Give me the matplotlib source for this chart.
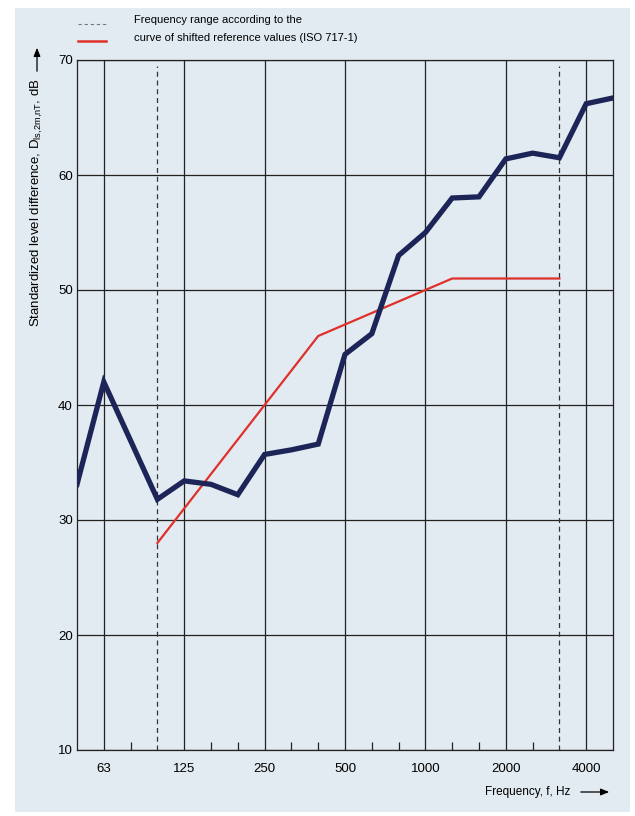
import matplotlib
matplotlib.use("Agg")
import matplotlib.pyplot as plt
from matplotlib.patches import Rectangle, FancyArrowPatch

plt.rcParams['font.family'] = ['Liberation Sans Narrow', 'Liberation Sans', 'DejaVu Sans']

bands = ["50", "63", "80", "100", "125", "160", "200", "250", "315", "400", "500",
         "630", "800", "1000", "1250", "1600", "2000", "2500", "3150", "4000", "5000"]
measured = [33.1, 42.0, 36.9, 31.8, 33.4, 33.1, 32.2, 35.7, 36.1, 36.6, 44.4,
            46.2, 53.0, 55.0, 58.0, 58.1, 61.4, 61.9, 61.5, 66.2, 66.7]
ref_bands = ["100", "125", "160", "200", "250", "315", "400", "500", "630", "800",
             "1000", "1250", "1600", "2000", "2500", "3150"]
ref_values = [28, 31, 34, 37, 40, 43, 46, 47, 48, 49, 50, 51, 51, 51, 51, 51]
major_labels = ["63", "125", "250", "500", "1000", "2000", "4000"]
minor_labels = ["80", "160", "200", "315", "400", "630", "800", "1250", "1600", "2500"]
range_bands = ["100", "3150"]
y_ticks = [10, 20, 30, 40, 50, 60, 70]

def pos(b):
    return bands.index(b)

W, H = 635, 816
fig = plt.figure(figsize=(W / 100, H / 100), dpi=100)
fig.patch.set_facecolor("white")
bg = "#e2ebf1"
fig.patches.append(Rectangle((15 / W, 4 / H), (630 - 15) / W, (808 - 4) / H,
                             transform=fig.transFigure, facecolor=bg, edgecolor="none",
                             zorder=-10))

ax = fig.add_axes([77 / W, (H - 750) / H, 536 / W, 690 / H])
ax.set_zorder(5)
ax.set_facecolor(bg)
ax.set_xlim(0, len(bands) - 1)
ax.set_ylim(10, 70)

# grid
for yv in y_ticks:
    ax.axhline(yv, color="#222222", lw=0.9, zorder=1)
for b in major_labels:
    ax.axvline(pos(b), color="#222222", lw=0.9, zorder=1)
ax.vlines([pos(b) for b in range_bands], 10, 69.5, color="#333333", lw=0.9,
          linestyles=[(0, (4, 3))], zorder=1)

ax.plot([pos(b) for b in bands], measured, color="#1d2558", lw=3.8,
        solid_joinstyle="miter", zorder=3)
ax.plot([pos(b) for b in ref_bands], ref_values, color="#e0302a", lw=1.6, zorder=2)

for s in ax.spines.values():
    s.set_color("#222222")
    s.set_linewidth(0.9)

ax.set_xticks([pos(b) for b in major_labels])
ax.set_xticklabels(major_labels, fontsize=9.5)
ax.set_xticks([pos(b) for b in minor_labels], minor=True)
ax.tick_params(axis="x", which="major", length=0, pad=9)
ax.tick_params(axis="x", which="minor", direction="in", length=6, width=0.9,
               top=False, bottom=True, color="#222222")
ax.set_yticks(y_ticks)
ax.set_yticklabels([str(v) for v in y_ticks], fontsize=9.5)
ax.tick_params(axis="y", length=0, pad=3)

# legend at top
lx0, lx1 = 78 / W, 106 / W
fig.add_artist(plt.Line2D([lx0, lx1], [1 - 24 / H, 1 - 24 / H], color="#777777",
                          lw=0.8, ls=(0, (3, 2.5))))
fig.add_artist(plt.Line2D([lx0, lx1], [1 - 41 / H, 1 - 41 / H], color="#e0302a", lw=1.8))
fig.text(134 / W, 1 - 20 / H, "Frequency range according to the", fontsize=8,
         va="center", ha="left")
fig.text(134 / W, 1 - 38 / H, "curve of shifted reference values (ISO 717-1)",
         fontsize=8, va="center", ha="left")

# y label with arrow
fig.text(37 / W, 1 - 78 / H,
         "Standardized level difference, D$_{\\mathregular{ls{,}2m{,}nT}}$, dB",
         rotation=90, ha="center", va="top", fontsize=9.5)
fig.add_artist(FancyArrowPatch((37 / W, 1 - 74 / H), (37 / W, 1 - 45 / H),
               transform=fig.transFigure, arrowstyle="-|>,head_length=5,head_width=2",
               color="black", lw=0.9))

# x label with arrow
fig.text(570 / W, 1 - 792 / H, "Frequency, f, Hz", ha="right", va="center", fontsize=8.5)
fig.add_artist(FancyArrowPatch((578 / W, 1 - 792 / H), (612 / W, 1 - 792 / H),
               transform=fig.transFigure, arrowstyle="-|>,head_length=5,head_width=2",
               color="black", lw=0.9))

fig.savefig("out.png", dpi=100, facecolor=fig.get_facecolor())
